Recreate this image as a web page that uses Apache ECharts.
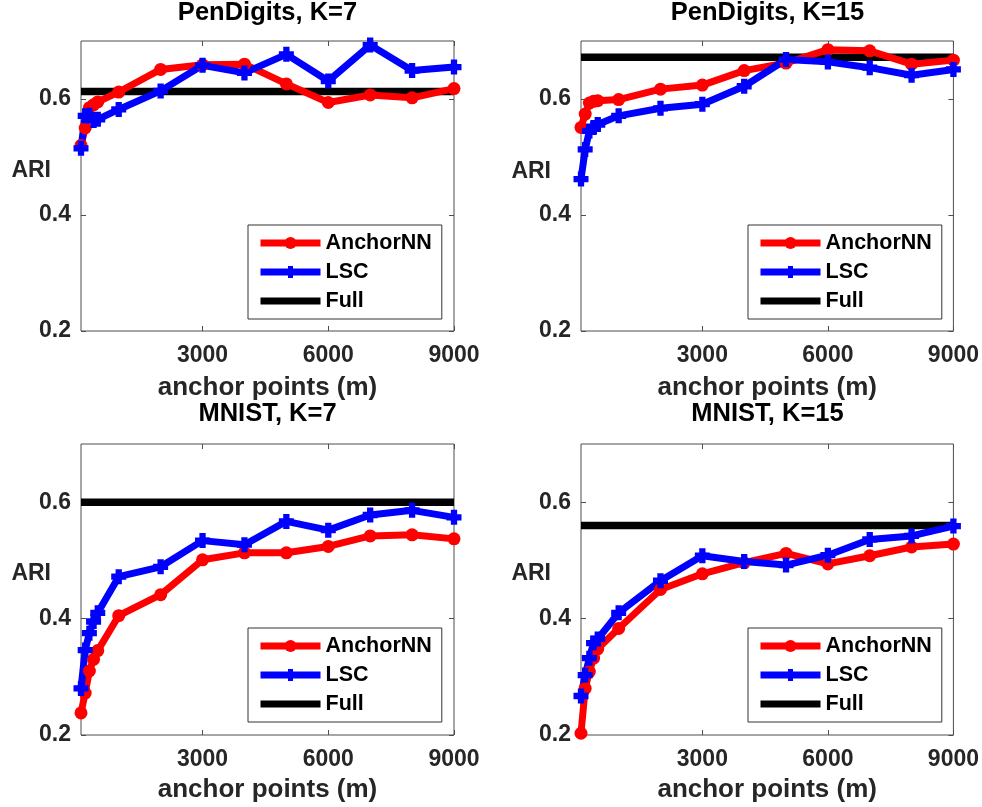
<!DOCTYPE html>
<html>
<head>
<meta charset="utf-8">
<script src="https://cdn.jsdelivr.net/npm/echarts@6/dist/echarts.min.js"></script>
<style>
html,body{margin:0;padding:0;background:#fff;}
#chart{width:982px;height:807px;}
</style>
</head>
<body>
<div id="chart"></div>
<script>
// ---- data ----
const anchorPoints = [100, 200, 300, 400, 500, 1000, 2000, 3000, 4000, 5000, 6000, 7000, 8000, 9000];
const xTickValues = [3000, 6000, 9000];
const yTickValues = [0.2, 0.4, 0.6];
const seriesNames = ['AnchorNN', 'LSC', 'Full'];
const panelTitles = ['PenDigits, K=7', 'PenDigits, K=15', 'MNIST, K=7', 'MNIST, K=15'];
const xAxisTitle = 'anchor points (m)';
const yAxisTitle = 'ARI';

const penK7Anchor = [0.52, 0.55, 0.585, 0.59, 0.595, 0.612, 0.651, 0.659, 0.66, 0.626, 0.594, 0.607, 0.602, 0.618];
const penK7LSC    = [0.515, 0.571, 0.572, 0.563, 0.565, 0.582, 0.614, 0.658, 0.645, 0.677, 0.631, 0.693, 0.649, 0.655];
const penK7Full   = 0.613;

const penK15Anchor = [0.551, 0.574, 0.593, 0.596, 0.597, 0.599, 0.617, 0.624, 0.649, 0.662, 0.685, 0.683, 0.660, 0.667];
const penK15LSC    = [0.462, 0.513, 0.545, 0.551, 0.556, 0.571, 0.584, 0.591, 0.622, 0.668, 0.664, 0.654, 0.641, 0.651];
const penK15Full   = 0.672;

const mnistK7Anchor = [0.238, 0.272, 0.31, 0.33, 0.345, 0.405, 0.441, 0.501, 0.513, 0.513, 0.524, 0.542, 0.544, 0.537];
const mnistK7LSC    = [0.28, 0.346, 0.375, 0.395, 0.41, 0.472, 0.489, 0.534, 0.527, 0.567, 0.552, 0.578, 0.586, 0.574];
const mnistK7Full   = 0.60;

const mnistK15Anchor = [0.203, 0.28, 0.309, 0.332, 0.348, 0.383, 0.450, 0.477, 0.496, 0.512, 0.494, 0.508, 0.523, 0.528];
const mnistK15LSC    = [0.267, 0.303, 0.332, 0.358, 0.365, 0.41, 0.465, 0.508, 0.498, 0.492, 0.509, 0.536, 0.542, 0.559];
const mnistK15Full   = 0.56;

// ---- layout ----
const panels = [
  {grid: {left: 81, top: 41, width: 373, height: 290}, legend: {left: 248, top: 225}, titleTop: 2, ariTop: 159, xlabMargin: 13, xnameGap: 44, anchor: penK7Anchor, lsc: penK7LSC, full: penK7Full},
  {grid: {left: 581, top: 41, width: 373, height: 290}, legend: {left: 748, top: 225}, titleTop: 2, ariTop: 160, xlabMargin: 13, xnameGap: 44, anchor: penK15Anchor, lsc: penK15LSC, full: penK15Full},
  {grid: {left: 81, top: 444, width: 373, height: 291}, legend: {left: 248, top: 628}, titleTop: 403, ariTop: 562, xlabMargin: 13, xnameGap: 42, anchor: mnistK7Anchor, lsc: mnistK7LSC, full: mnistK7Full},
  {grid: {left: 581, top: 444, width: 373, height: 291}, legend: {left: 748, top: 628}, titleTop: 403, ariTop: 562, xlabMargin: 13, xnameGap: 42, anchor: mnistK15Anchor, lsc: mnistK15LSC, full: mnistK15Full}
];

const FONT = '"Liberation Sans", Arial, Helvetica, sans-serif';
const TXT = '#262626';
const AX = '#4d4d4d';
const plusPath = 'path://M2.9,0H7.1V2.9H10V7.1H7.1V10H2.9V7.1H0V2.9H2.9Z';

const option = {
  animation: false,
  backgroundColor: '#fff',
  title: [], grid: [], xAxis: [], yAxis: [], legend: [], series: []
};

panels.forEach((p, i) => {
  option.title.push({
    text: panelTitles[i],
    left: p.grid.left + p.grid.width / 2,
    top: p.titleTop,
    textAlign: 'center',
    padding: 0,
    textStyle: {fontFamily: FONT, fontWeight: 'bold', fontSize: 25.5, lineHeight: 22, color: '#000'}
  });
  option.title.push({
    text: yAxisTitle,
    left: p.grid.left - 30,
    top: p.ariTop,
    textAlign: 'right',
    padding: 0,
    textStyle: {fontFamily: FONT, fontWeight: 'bold', fontSize: 23, color: TXT}
  });
  option.grid.push(Object.assign({show: true, borderColor: AX, borderWidth: 1, backgroundColor: '#fff'}, p.grid));

  const xBase = {
    type: 'value', gridIndex: i, min: anchorPoints[0], max: anchorPoints[anchorPoints.length - 1],
    splitLine: {show: false},
    axisLine: {show: false},
    axisTick: {show: true, inside: true, length: 5, lineStyle: {color: AX}, customValues: xTickValues}
  };
  option.xAxis.push(Object.assign({}, xBase, {
    position: 'bottom',
    axisLabel: {show: true, customValues: xTickValues, margin: p.xlabMargin, formatter: v => String(v),
      fontFamily: FONT, fontWeight: 'bold', fontSize: 23, color: TXT},
    name: xAxisTitle, nameLocation: 'middle', nameGap: p.xnameGap,
    nameTextStyle: {fontFamily: FONT, fontWeight: 'bold', fontSize: 26, color: TXT}
  }));
  option.xAxis.push(Object.assign({}, xBase, {position: 'top', axisLabel: {show: false}}));

  const yBase = {
    type: 'value', gridIndex: i, min: 0.2, max: 0.7,
    splitLine: {show: false},
    axisLine: {show: false},
    axisTick: {show: true, inside: true, length: 5, lineStyle: {color: AX}, customValues: yTickValues}
  };
  option.yAxis.push(Object.assign({}, yBase, {
    position: 'left',
    axisLabel: {show: true, customValues: yTickValues, margin: 10, formatter: v => v.toFixed(1),
      fontFamily: FONT, fontWeight: 'bold', fontSize: 23, color: TXT}
  }));
  option.yAxis.push(Object.assign({}, yBase, {position: 'right', axisLabel: {show: false}}));

  option.legend.push({
    orient: 'vertical', align: 'left',
    left: p.legend.left, top: p.legend.top,
    padding: [7, 10, 7, 9],
    itemGap: 7,
    itemWidth: 60, itemHeight: 15,
    borderColor: '#333', borderWidth: 1, borderRadius: 0, backgroundColor: '#fff',
    selectedMode: false,
    lineStyle: {width: 7},
    textStyle: {fontFamily: FONT, fontWeight: 'bold', fontSize: 21.5, color: '#000'},
    data: [
      {name: seriesNames[0]},
      {name: seriesNames[1]},
      {name: seriesNames[2], itemStyle: {opacity: 0}}
    ]
  });

  const xi = i * 2, yi = i * 2;
  option.series.push({
    name: seriesNames[2], type: 'line', xAxisIndex: xi, yAxisIndex: yi,
    data: [[anchorPoints[0], p.full], [anchorPoints[anchorPoints.length - 1], p.full]],
    symbol: 'none', clip: false,
    itemStyle: {color: 'rgba(0,0,0,0)'},
    lineStyle: {color: '#000', width: 7.5}
  });
  option.series.push({
    name: seriesNames[0], type: 'line', xAxisIndex: xi, yAxisIndex: yi,
    data: anchorPoints.map((x, k) => [x, p.anchor[k]]),
    symbol: 'circle', symbolSize: 13, clip: false,
    itemStyle: {color: '#ff0000'},
    lineStyle: {color: '#ff0000', width: 7}
  });
  option.series.push({
    name: seriesNames[1], type: 'line', xAxisIndex: xi, yAxisIndex: yi,
    data: anchorPoints.map((x, k) => [x, p.lsc[k]]),
    symbol: plusPath, symbolSize: 15, clip: false,
    itemStyle: {color: '#0000ff'},
    lineStyle: {color: '#0000ff', width: 7}
  });
});

const chart = echarts.init(document.getElementById('chart'), null, {renderer: 'canvas'});
chart.setOption(option);
</script>
</body>
</html>
